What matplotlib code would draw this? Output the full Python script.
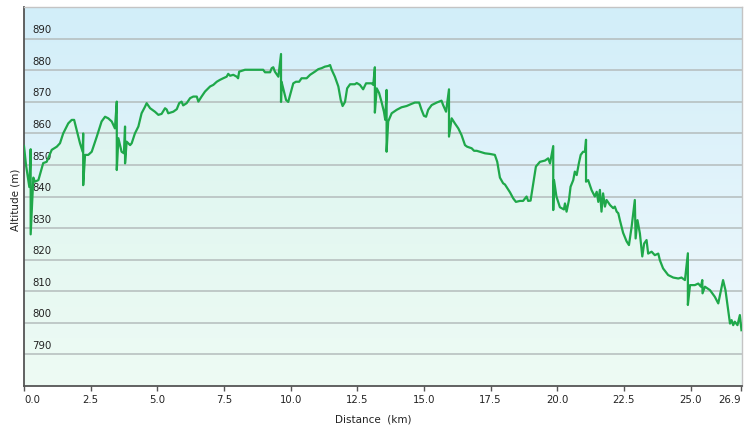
import numpy as np
import matplotlib
matplotlib.use("Agg")
import matplotlib.pyplot as plt
from matplotlib.colors import to_rgb

# ---------------- data ----------------
distance_km = [
    0.00, 0.075, 0.20, 0.25, 0.25, 0.35, 0.41, 0.54, 0.72, 0.85, 1.04, 1.23, 1.35,
    1.47, 1.66, 1.79, 1.88, 1.98, 2.10, 2.20, 2.22, 2.22, 2.29, 2.41, 2.54, 2.73,
    2.91, 3.04, 3.16, 3.29, 3.41, 3.48, 3.48, 3.54, 3.66, 3.75, 3.79, 3.79, 3.85,
    3.98, 4.04, 4.16, 4.29, 4.41, 4.54, 4.60, 4.73, 4.91, 5.04, 5.16, 5.29, 5.35,
    5.41, 5.60, 5.73, 5.82, 5.91, 5.97, 6.10, 6.23, 6.35, 6.48, 6.54, 6.66, 6.79,
    6.98, 7.10, 7.23, 7.35, 7.47, 7.60, 7.66, 7.73, 7.85, 7.98, 8.03, 8.07, 8.29,
    8.97, 9.04, 9.23, 9.29, 9.35, 9.41, 9.54, 9.64, 9.64, 9.66, 9.75, 9.83, 9.91,
    10.00, 10.10, 10.20, 10.32, 10.41, 10.60, 10.73, 10.91, 11.04, 11.16, 11.29,
    11.41, 11.48, 11.54, 11.66, 11.79, 11.88, 11.95, 12.04, 12.12, 12.23, 12.41,
    12.48, 12.60, 12.72, 12.83, 13.04, 13.10, 13.16, 13.16, 13.23, 13.32, 13.41,
    13.50, 13.55, 13.60, 13.60, 13.66, 13.79, 13.98, 14.16, 14.35, 14.54, 14.66,
    14.82, 14.91, 15.00, 15.08, 15.16, 15.29, 15.48, 15.66, 15.72, 15.83, 15.94,
    15.94, 16.04, 16.16, 16.29, 16.41, 16.54, 16.62, 16.79, 16.88, 16.98, 17.10,
    17.29, 17.48, 17.66, 17.75, 17.85, 17.97, 18.04, 18.23, 18.35, 18.45, 18.60,
    18.72, 18.85, 18.91, 19.00, 19.10, 19.20, 19.35, 19.54, 19.66, 19.73, 19.85,
    19.85, 19.88, 19.97, 20.10, 20.25, 20.29, 20.35, 20.44, 20.50, 20.60, 20.66,
    20.73, 20.81, 20.88, 20.97, 21.04, 21.08, 21.08, 21.16, 21.29, 21.41, 21.48,
    21.54, 21.60, 21.66, 21.72, 21.79, 21.85, 21.98, 22.10, 22.16, 22.23, 22.29,
    22.35, 22.47, 22.60, 22.69, 22.79, 22.91, 22.94, 23.01, 23.10, 23.19, 23.26,
    23.35, 23.41, 23.54, 23.66, 23.79, 23.85, 23.97, 24.16, 24.35, 24.54, 24.66,
    24.79, 24.90, 24.90, 24.98, 25.16, 25.29, 25.39, 25.44, 25.45, 25.54, 25.73,
    25.91, 26.04, 26.14, 26.22, 26.31, 26.41, 26.48, 26.54, 26.60, 26.66, 26.76,
    26.85, 26.91,
]
altitude_m = [
    856.0, 850.0, 843.0, 855.0, 828.0, 846.0, 844.7, 845.2, 850.6, 851.0, 854.8, 855.8, 856.9,
    860.0, 863.2, 864.3, 864.3, 861.0, 856.9, 854.2, 860.0, 843.6, 853.2, 853.2, 854.2, 859.0,
    863.8, 865.3, 864.8, 863.8, 861.6, 870.1, 848.4, 858.5, 854.2, 853.7, 862.2, 850.5, 857.4,
    856.3, 856.9, 860.0, 862.2, 866.4, 868.5, 869.6, 868.0, 866.9, 865.9, 866.2, 868.0, 867.6,
    866.4, 866.9, 867.7, 869.6, 870.1, 868.9, 869.6, 871.2, 871.7, 871.7, 870.1, 871.7, 873.3,
    874.9, 875.4, 876.4, 877.0, 877.5, 878.0, 878.9, 878.3, 878.6, 878.0, 877.5, 879.6, 880.2,
    880.2, 879.4, 879.4, 880.7, 881.0, 879.6, 878.0, 885.2, 870.0, 876.4, 873.3, 870.6, 870.0,
    872.8, 875.9, 876.4, 876.4, 877.5, 877.5, 878.6, 879.6, 880.4, 880.7, 881.2,
    881.4, 881.7, 880.2, 878.0, 874.9, 870.6, 868.7, 870.0, 874.3, 875.6, 875.6,
    876.0, 875.4, 874.0, 875.9, 875.9, 875.4, 881.0, 866.6, 874.3, 872.8, 870.0,
    866.9, 864.3, 873.8, 854.2, 863.8, 866.4, 867.5, 868.3, 868.7, 869.4, 869.8,
    869.8, 867.5, 865.6, 865.3, 867.5, 869.0, 869.8, 870.4, 869.0, 866.9, 874.0,
    859.0, 864.8, 863.2, 861.6, 859.5, 856.3, 855.8, 855.3, 854.5, 854.5, 854.2,
    853.7, 853.5, 853.2, 851.0, 846.0, 844.2, 843.8, 841.3, 839.4, 838.3, 838.6,
    838.6, 840.0, 838.6, 838.7, 844.2, 849.5, 851.0, 851.4, 852.1, 850.5, 856.0,
    835.7, 845.2, 840.0, 836.6, 835.9, 837.8, 835.2, 838.9, 843.1, 845.2, 847.9,
    846.8, 850.5, 853.2, 854.2, 854.2, 858.0, 844.7, 845.2, 842.0, 840.0, 841.5,
    838.3, 842.1, 835.2, 841.0, 836.8, 838.9, 837.3, 836.3, 836.8, 835.2, 834.7,
    832.5, 828.5, 825.8, 824.6, 830.4, 838.9, 826.7, 832.5, 828.3, 821.0, 825.1,
    826.2, 821.9, 822.5, 821.4, 821.9, 819.8, 817.2, 815.1, 814.3, 814.0, 814.3,
    813.5, 822.0, 805.6, 811.9, 811.9, 812.4, 811.4, 813.5, 809.3, 811.4, 810.3,
    808.2, 806.1, 810.3, 813.5, 810.3, 804.0, 799.7, 800.8, 799.2, 800.3, 799.2,
    802.4, 797.6,
]
x_ticks = [0.0, 2.5, 5.0, 7.5, 10.0, 12.5, 15.0, 17.5, 20.0, 22.5, 25.0, 26.9]
x_tick_labels = ["0.0", "2.5", "5.0", "7.5", "10.0", "12.5", "15.0", "17.5",
                 "20.0", "22.5", "25.0", "26.9"]
y_ticks = [790, 800, 810, 820, 830, 840, 850, 860, 870, 880, 890]
x_label = "Distance  (km)"
y_label = "Altitude (m)"

# ---------------- figure ----------------
W, H = 746, 432
fig = plt.figure(figsize=(W / 100, H / 100), dpi=100)
left_px, right_px, top_px, bottom_px = 24, 742, 6.7, 385.7
ax = fig.add_axes([left_px / W, 1 - bottom_px / H,
                   (right_px - left_px) / W, (bottom_px - top_px) / H])
xmin, xmax, ymin, ymax = 0, 26.93, 780, 900.2
ax.set_xlim(xmin, xmax)
ax.set_ylim(ymin, ymax)


def vgrad(top, bottom, n=256):
    t = np.linspace(0, 1, n)[:, None]
    a, b = np.array(to_rgb(top)), np.array(to_rgb(bottom))
    return (a * (1 - t) + b * t)[:, None, :].reshape(n, 1, 3)


# background (sky) gradient
ax.imshow(vgrad("#d2eef9", "#f2f9fc"), extent=[xmin, xmax, ymin, ymax],
          aspect="auto", zorder=0, interpolation="bilinear")
# fill under the profile (green-ish gradient) clipped to area under line
fill = ax.fill_between(distance_km, altitude_m, ymin, color="none", lw=0, zorder=1)
im2 = ax.imshow(vgrad("#d6f3ee", "#eefbf4"), extent=[xmin, xmax, ymin, ymax],
                aspect="auto", zorder=1, interpolation="bilinear")
path = fill.get_paths()[0]
im2.set_clip_path(path, transform=ax.transData)

# gridlines
for v in y_ticks:
    ax.axhline(v, color="#b4bcbc", lw=1.1, zorder=2)
    ax.annotate(str(v), xy=(0, v), xycoords=("axes fraction", "data"),
                xytext=(6, 2.5), textcoords="offset points",
                ha="left", va="bottom", fontsize=7.3, color="#222222", zorder=3)

ax.plot(distance_km, altitude_m, color="#1fa84a", lw=1.6, zorder=4,
        solid_joinstyle="round")

# axes styling
ax.set_yticks([])
ax.set_xticks(x_ticks)
ax.set_xticklabels(x_tick_labels, fontsize=7.3, color="#222222")
ax.tick_params(axis="x", direction="out", length=3.8, width=1.0,
               color="#555555", pad=3)
tls = ax.get_xticklabels()
tls[0].set_horizontalalignment("left")
tls[-1].set_horizontalalignment("right")
for s in ["left", "bottom"]:
    ax.spines[s].set_color("#555555")
    ax.spines[s].set_linewidth(1.3)
for s in ["top", "right"]:
    ax.spines[s].set_color("#c4c4c4")
    ax.spines[s].set_linewidth(1.0)

fig.text(373 / W, 1 - 419 / H, x_label, ha="center", va="center",
         fontsize=7.5, color="#222222")
fig.text(15 / W, 1 - 200 / H, y_label, ha="center", va="center",
         rotation=90, fontsize=7.5, color="#222222")

fig.savefig("out.png", dpi=100)
